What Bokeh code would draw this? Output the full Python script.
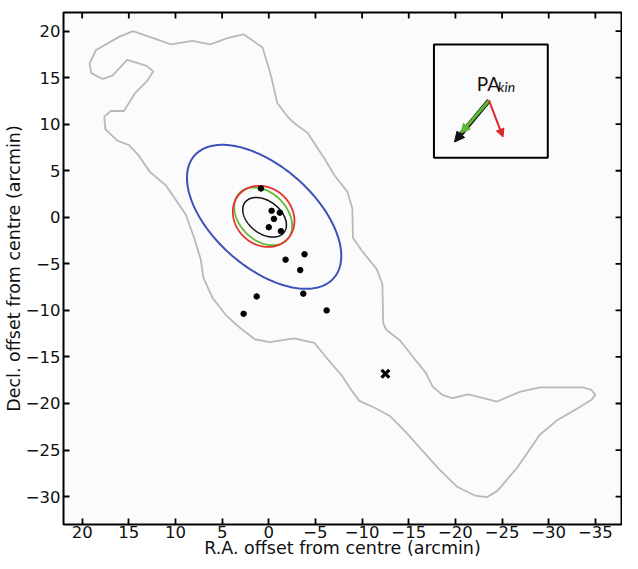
import numpy as np
from bokeh.plotting import figure
from bokeh.models import Range1d, FixedTicker, Arrow, NormalHead
from bokeh.core.properties import value
from bokeh.embed import file_html
from bokeh.resources import INLINE

# ---------------- data (arcmin offsets) ----------------
contour_x = [14.55, 10.46, 8.18, 6.27, 4.35, 2.70, 0.67, -0.21, -0.90, -1.95, -2.65,
             -4.15, -5.32, -5.98, -7.03, -8.42, -8.95, -9.02, -9.99, -11.57, -12.17,
             -12.27, -12.62, -14.07, -15.46, -16.86, -17.56, -18.60, -19.65, -21.39,
             -24.46, -26.97, -29.07, -33.60, -34.58, -35.00, -34.58, -33.26, -30.99,
             -29.07, -26.63, -24.53, -23.38, -22.09, -20.17, -18.25, -16.51, -14.59,
             -13.02, -11.28, -9.71, -8.84, -7.79, -6.40, -4.90, -2.70, -0.10, 1.50,
             3.30, 4.60, 6.00, 7.00, 7.30, 8.00, 8.90, 11.00, 12.74, 13.95, 15.00,
             16.23, 17.52, 17.63, 16.93, 15.53, 14.31, 13.08, 12.38, 13.08, 15.18,
             16.75, 17.80, 19.03, 19.20, 18.51, 16.05, 14.55]
contour_y = [20.00, 18.57, 18.95, 18.57, 19.27, 19.66, 18.25, 15.31, 12.31, 10.89, 10.18,
             9.07, 7.28, 6.29, 4.52, 2.75, 0.98, -2.20, -3.62, -5.57, -7.16,
             -11.41, -12.11, -13.23, -15.00, -16.77, -18.19, -19.08, -19.43, -19.01,
             -19.79, -18.72, -18.26, -18.26, -18.55, -19.08, -19.61, -20.43, -21.74,
             -23.33, -26.88, -29.36, -30.07, -29.89, -28.94, -27.06, -25.11, -22.98,
             -21.38, -20.43, -19.72, -18.55, -16.95, -15.35, -13.50, -13.00, -13.40, -13.10,
             -11.70, -10.50, -8.70, -6.50, -4.50, -2.20, 0.30, 3.40, 4.88, 6.64, 7.77,
             8.23, 9.47, 10.82, 11.42, 11.42, 13.37, 14.60, 15.66, 16.27, 16.90,
             15.21, 14.86, 15.49, 16.55, 17.97, 19.38, 20.00]

dots_x = [0.84, -0.30, -1.18, -0.55, 0.00, -1.30, -1.80, -3.83, -3.37, -3.70, -6.20, 1.30, 2.70]
dots_y = [3.10, 0.70, 0.50, -0.17, -1.07, -1.49, -4.55, -3.97, -5.67, -8.20, -10.00, -8.50, -10.37]

cross_x = [-12.5]
cross_y = [-16.8]

ell_cx = [0.50, 0.60, 0.55, 0.45]
ell_cy = [0.05, 0.10, 0.10, 0.00]
ell_a = [9.95, 3.57, 3.53, 2.64]
ell_b = [5.40, 2.55, 3.04, 1.74]
ell_angle = [41.5, 45.0, 44.0, 38.0]
ell_color = ["#3d52b6", "#62b932", "#e63030", "#111111"]
ell_width = [2.0, 1.8, 1.8, 1.5]

box_x = [-17.7, -29.9]
box_y = [6.4, 18.55]

arrow_x0 = -23.6
arrow_y0 = 12.55
arrow_x1 = [-19.9, -20.6, -25.1]
arrow_y1 = [8.09, 9.05, 8.62]
arrow_color = ["#111111", "#5db832", "#e0262a"]

x_ticks = [20, 15, 10, 5, 0, -5, -10, -15, -20, -25, -30, -35]
y_ticks = [20, 15, 10, 5, 0, -5, -10, -15, -20, -25, -30]

X_LEFT, X_RIGHT = 22, -37.8
Y_BOTTOM, Y_TOP = -33, 22

# ---------------- figure ----------------
W, H = 622, 561
BL, BR, BT, BB = 57, 1, 12, 37
p = figure(width=W, height=H, x_range=Range1d(X_LEFT, X_RIGHT), y_range=Range1d(Y_BOTTOM, Y_TOP),
           output_backend="svg", toolbar_location=None,
           min_border_left=BL, min_border_right=BR, min_border_top=BT, min_border_bottom=BB)
p.background_fill_color = "#fbfbfb"
p.border_fill_color = "white"
p.outline_line_color = "black"
p.outline_line_width = 2
p.grid.visible = False

FONT = "DejaVu Sans"

def lab(t):
    return str(t).replace("-", "\u2212")

def style_axis(ax, ticks):
    ax.ticker = FixedTicker(ticks=ticks)
    ax.major_tick_in = 6
    ax.major_tick_out = 0
    ax.minor_tick_in = 0
    ax.minor_tick_out = 0
    ax.major_tick_line_width = 1.8
    ax.major_tick_line_color = "black"
    ax.axis_line_color = None
    ax.major_label_text_font = FONT
    ax.axis_label_text_font = FONT
    ax.axis_label_text_font_style = "normal"
    ax.axis_label_text_color = "#111111"
    ax.major_label_text_color = "#111111"
    ax.major_label_text_font_size = "16.5px"
    ax.axis_label_text_font_size = "17.5px"
    ax.major_label_overrides = {t: lab(t) for t in ticks}

xa = p.xaxis[0]
style_axis(xa, x_ticks)
xa.axis_label = "R.A. offset from centre (arcmin)"
xa.major_label_standoff = 1
xa.axis_label_standoff = -3

ya = p.yaxis[0]
style_axis(ya, y_ticks)
ya.axis_label = "Decl. offset from centre (arcmin)"
ya.major_label_standoff = 3
ya.axis_label_standoff = -1

# mirrored inward ticks on top and right edges (6 px long)
frame_w = W - BL - BR
frame_h = H - BT - BB
tx = 6 * abs(X_LEFT - X_RIGHT) / frame_w
ty = 6 * abs(Y_TOP - Y_BOTTOM) / frame_h
p.segment(x0=x_ticks, y0=[Y_TOP] * len(x_ticks), x1=x_ticks, y1=[Y_TOP - ty] * len(x_ticks),
          line_color="black", line_width=1.8)
p.segment(x0=[X_RIGHT] * len(y_ticks), y0=y_ticks, x1=[X_RIGHT + tx] * len(y_ticks), y1=y_ticks,
          line_color="black", line_width=1.8)

# contour
p.line(contour_x, contour_y, line_color="#b9b9b9", line_width=1.8)

# ellipses
t = np.linspace(0, 2 * np.pi, 240)
for cx, cy, a, b, ang, col, w in zip(ell_cx, ell_cy, ell_a, ell_b, ell_angle, ell_color, ell_width):
    ph = np.radians(ang)
    ex = cx + a * np.cos(t) * np.cos(ph) - b * np.sin(t) * np.sin(ph)
    ey = cy + a * np.cos(t) * np.sin(ph) + b * np.sin(t) * np.cos(ph)
    p.line(ex, ey, line_color=col, line_width=w)

# dots and cross
p.scatter(dots_x, dots_y, size=5.5, color="black")
p.scatter(cross_x, cross_y, marker="x", size=11, line_width=3.2, line_color="black")

# inset box
p.quad(left=[box_x[0]], right=[box_x[1]], bottom=[box_y[0]], top=[box_y[1]],
       fill_color=None, line_color="black", line_width=2)

# arrows
widths = [4.5, 3, 2]
heads = [10, 9, 8]
for x1, y1, col, w, hs in zip(arrow_x1, arrow_y1, arrow_color, widths, heads):
    p.add_layout(Arrow(x_start=arrow_x0, y_start=arrow_y0, x_end=x1, y_end=y1,
                       line_color=col, line_width=w,
                       end=NormalHead(size=hs, fill_color=col, line_color=col, line_width=1)))

p.text(x=[-22.3], y=[14.4], text=["PA"], text_font=value("Lato"), text_font_size="19px",
       text_color="#111111", text_baseline="alphabetic", text_align="left")
p.text(x=[-22.3], y=[14.4], text=["kin"], text_font=value("Lato"), text_font_size="14px",
       text_font_style="italic", text_color="#111111", text_baseline="alphabetic",
       text_align="left", x_offset=21, y_offset=3)

open("out.html", "w").write(file_html(p, INLINE))
